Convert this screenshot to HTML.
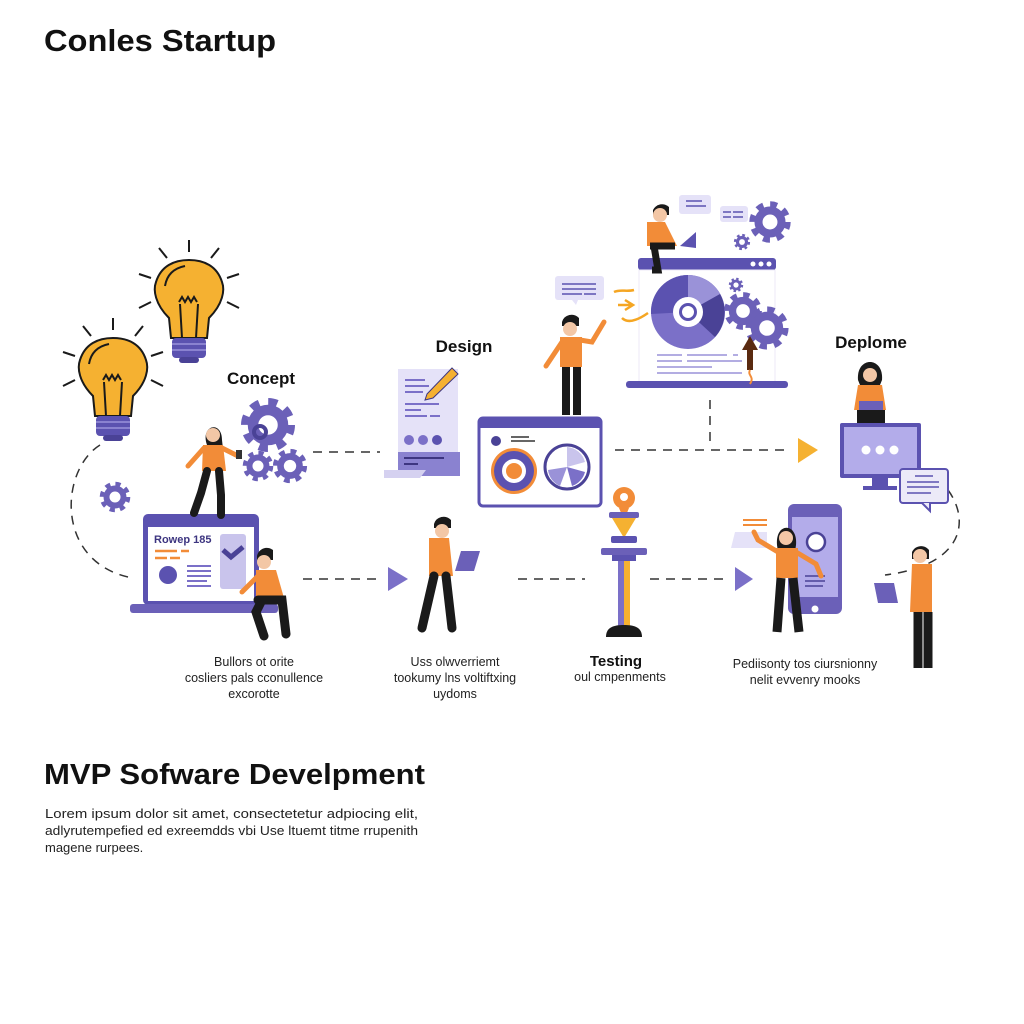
<!DOCTYPE html>
<html><head><meta charset="utf-8"><style>
html,body{margin:0;padding:0;background:#fff;}
svg{display:block;}
text{font-family:"Liberation Sans",sans-serif;}
</style></head><body>
<svg width="1024" height="1024" viewBox="0 0 1024 1024" xmlns="http://www.w3.org/2000/svg">
<defs>
<g id="gear"><circle r="14" fill="none" stroke="#6b60b8" stroke-width="8" stroke-dasharray="5.5 5.5"/><circle r="10" fill="none" stroke="#6b60b8" stroke-width="7"/></g>
<g id="bulb">
 <path d="M-20,22 C-34,8 -36,-6 -33,-14 C-28,-30 -15,-36 0,-36 C15,-36 28,-30 33,-14 C36,-6 34,8 20,22 L18,42 L-18,42 Z" fill="#f5b131" stroke="#1a1a1a" stroke-width="2"/>
 <path d="M-7,42 L-9,8 M7,42 L9,8 M-10,6 l3,-5 l3,5 l3,-5 l3,5 l3,-5 l3,5" stroke="#1a1a1a" stroke-width="2" fill="none"/>
 <path d="M-24,-10 C-22,-22 -14,-28 -4,-30" stroke="#1a1a1a" stroke-width="2" fill="none"/>
 <rect x="-17" y="42" width="34" height="20" rx="4" fill="#5b52b0"/>
 <path d="M-17,48 h34 M-17,54 h34" stroke="#8a82d0" stroke-width="2"/>
 <rect x="-10" y="61" width="20" height="6" rx="3" fill="#4a4296"/>
 <path d="M0,-44 v-12 M-22,-38 l-8,-10 M22,-38 l8,-10 M-38,-18 l-12,-4 M38,-18 l12,-4 M-38,6 l-12,6 M38,6 l12,6" stroke="#1a1a1a" stroke-width="2"/>
</g>
</defs>

<text x="44" y="51" font-size="31" font-weight="bold" fill="#111" textLength="232" lengthAdjust="spacingAndGlyphs">Conles Startup</text>

<use href="#bulb" x="189" y="296"/>
<use href="#bulb" x="113" y="374"/>

<g stroke="#333" stroke-width="1.5" stroke-dasharray="9 7" fill="none">
 <path d="M100,445 C60,470 55,560 128,577"/>
 <path d="M313,452 H380"/>
 <path d="M303,579 H380"/>
 <path d="M518,579 H585"/>
 <path d="M650,579 H728"/>
 <path d="M615,450 H790"/>
 <path d="M710,400 V445"/>
 <path d="M948,490 C970,520 965,565 885,575"/>
</g>
<path d="M388,567 L408,579 L388,591 Z" fill="#7b70c8"/>
<path d="M735,567 L753,579 L735,591 Z" fill="#7b70c8"/>
<path d="M798,438 L818,450 L798,463 Z" fill="#f5b131"/>

<text x="261" y="384" font-size="17" font-weight="bold" text-anchor="middle" fill="#111">Concept</text>
<use href="#gear" x="268" y="425" transform="translate(268 425) scale(1.5) translate(-268 -425)"/>
<use href="#gear" x="258" y="466" transform="translate(258 466) scale(0.85) translate(-258 -466)"/>
<use href="#gear" x="290" y="466" transform="translate(290 466) scale(0.95) translate(-290 -466)"/>
<use href="#gear" x="115" y="497" transform="translate(115 497) scale(0.85) translate(-115 -497)"/>
<circle cx="260" cy="432" r="6" fill="none" stroke="#4a4296" stroke-width="4"/>

<rect x="143" y="514" width="116" height="91" rx="5" fill="#5b52b0"/>
<rect x="148" y="527" width="106" height="74" fill="#fff"/>
<rect x="130" y="604" width="148" height="9" rx="3" fill="#6b60b8"/>
<text x="154" y="543" font-size="11" font-weight="bold" fill="#3d3580">Rowep 185</text>
<path d="M155,551 h22 M181,551 h8 M155,558 h12 M170,558 h10" stroke="#f28c38" stroke-width="2.5"/>
<circle cx="168" cy="575" r="9" fill="#5b52b0"/>
<path d="M187,566 h24 M187,571 h24 M187,576 h24 M187,581 h20 M187,586 h24" stroke="#7b70c8" stroke-width="2"/>
<rect x="220" y="534" width="26" height="55" rx="3" fill="#c9c4ec"/>
<path d="M223,550 l8,7 l12,-10" stroke="#4a4296" stroke-width="5" fill="none"/>

<path d="M207,445 C200,425 222,420 222,440 L224,458 L204,458 Z" fill="#1a1a1a"/>
<circle cx="213" cy="435" r="7" fill="#f3c7a6"/>
<path d="M203,445 h20 l3,26 h-24 Z" fill="#f28c38"/>
<path d="M204,448 l-16,18 M222,448 l16,8" stroke="#f28c38" stroke-width="5" stroke-linecap="round"/>
<rect x="236" y="450" width="6" height="9" fill="#333"/>
<path d="M207,471 l-6,22 l-7,20 M219,471 l2,24 l0,20" stroke="#1a1a1a" stroke-width="8" stroke-linecap="round"/>

<path d="M257,556 a10,10 0 0 1 16,-6 v10 h-16 Z" fill="#1a1a1a"/>
<circle cx="264" cy="562" r="7" fill="#f3c7a6"/>
<path d="M256,570 h20 l8,28 h-28 Z" fill="#f28c38"/>
<path d="M258,576 l-16,16" stroke="#f28c38" stroke-width="5" stroke-linecap="round"/>
<path d="M258,600 h24 l4,34 M262,600 l-6,12 l8,24" stroke="#1a1a1a" stroke-width="9" fill="none" stroke-linecap="round"/>

<text x="464" y="352" font-size="17" font-weight="bold" text-anchor="middle" fill="#111">Design</text>
<rect x="398" y="369" width="60" height="95" fill="#e5e2f8"/>
<path d="M405,380 h20 M405,386 h24 M405,392 h18 M405,404 h34 M405,410 h16 M405,416 h22 M430,416 h10" stroke="#7b70c8" stroke-width="2"/>
<circle cx="409" cy="440" r="5" fill="#7b70c8"/><circle cx="423" cy="440" r="5" fill="#7b70c8"/><circle cx="437" cy="440" r="5" fill="#5b52b0"/>
<rect x="398" y="452" width="62" height="24" fill="#8a82d0"/>
<path d="M404,458 h40 M404,464 h14" stroke="#3d3580" stroke-width="2"/>
<path d="M384,470 h42 l-6,8 h-36 Z" fill="#d5d1f0"/>
<path d="M427,394 L452,368 L458,374 L433,398 L425,400 Z" fill="#f5b131" stroke="#3d3580" stroke-width="1"/>

<rect x="479" y="418" width="122" height="88" rx="4" fill="#fff" stroke="#5b52b0" stroke-width="3"/>
<rect x="479" y="418" width="122" height="10" fill="#5b52b0"/>
<circle cx="496" cy="441" r="5" fill="#4a4296"/>
<path d="M511,437 h18 M511,441 h24" stroke="#333" stroke-width="1.5"/>
<circle cx="514" cy="471" r="23" fill="#f28c38"/>
<circle cx="514" cy="471" r="20" fill="#5b52b0"/>
<circle cx="514" cy="471" r="12" fill="#fff"/>
<circle cx="514" cy="471" r="8" fill="#f28c38"/>
<circle cx="567" cy="467" r="22" fill="#fff" stroke="#4a4296" stroke-width="3"/>
<path d="M567,467 L567,447 A20,20 0 0 1 585,462 Z" fill="#c9c4ec"/>
<path d="M567,467 L585,472 A20,20 0 0 1 572,486 Z" fill="#7b70c8"/>
<path d="M567,467 L560,486 A20,20 0 0 1 548,470 Z" fill="#9a92d8"/>

<path d="M562,322 a10,10 0 0 1 17,-4 v8 h-17 Z" fill="#1a1a1a"/>
<circle cx="570" cy="329" r="7" fill="#f3c7a6"/>
<path d="M560,337 h22 l0,30 h-22 Z" fill="#f28c38"/>
<path d="M562,342 l-16,24 M580,340 l12,2 l12,-20" stroke="#f28c38" stroke-width="5" stroke-linecap="round" fill="none"/>
<path d="M566,367 v48 M577,367 v48" stroke="#1a1a1a" stroke-width="8"/>
<rect x="555" y="276" width="49" height="24" rx="3" fill="#e5e2f8"/>
<path d="M562,284 h34 M562,289 h34 M562,294 h20 M584,294 h12" stroke="#5b52b0" stroke-width="1.5"/>
<path d="M572,300 l4,5 l2,-5" fill="#e5e2f8"/>

<rect x="638" y="258" width="138" height="12" rx="3" fill="#5b52b0"/>
<circle cx="753" cy="264" r="2.5" fill="#fff"/><circle cx="761" cy="264" r="2.5" fill="#fff"/><circle cx="769" cy="264" r="2.5" fill="#fff"/>
<rect x="639" y="270" width="136" height="112" fill="#fff" stroke="#eceaf7"/>
<rect x="626" y="381" width="162" height="7" rx="3" fill="#5b52b0"/>
<circle cx="688" cy="312" r="37" fill="#7b70c8"/>
<path d="M688,312 L688,275 A37,37 0 0 1 720,294 Z" fill="#9a92d8"/>
<path d="M688,312 L720,294 A37,37 0 0 1 715,337 Z" fill="#4a4296"/>
<path d="M688,312 L651,314 A37,37 0 0 1 688,275 Z" fill="#5b52b0"/>
<circle cx="688" cy="312" r="15" fill="#fff"/>
<circle cx="688" cy="312" r="9" fill="#5b52b0"/>
<circle cx="688" cy="312" r="6" fill="#fff"/>
<path d="M657,355 h25 M687,355 h40 M733,355 h5 M657,361 h25 M687,361 h55 M657,367 h55 M657,373 h85" stroke="#9a92d8" stroke-width="1.5"/>
<use href="#gear" x="743" y="311" transform="translate(743 311) scale(1.05) translate(-743 -311)"/>
<use href="#gear" x="767" y="328" transform="translate(767 328) scale(1.2) translate(-767 -328)"/>
<use href="#gear" x="736" y="285" transform="translate(736 285) scale(0.4) translate(-736 -285)"/>
<use href="#gear" x="770" y="222" transform="translate(770 222) scale(1.15) translate(-770 -222)"/>
<use href="#gear" x="742" y="242" transform="translate(742 242) scale(0.45) translate(-742 -242)"/>
<path d="M750,336 l-8,14 h5 v20 h6 v-20 h5 Z" fill="#5a2a10"/>
<path d="M750,370 c-3,6 5,6 0,14" stroke="#f28c38" stroke-width="2" fill="none"/>
<path d="M614,292 c6,-3 12,0 20,-2 M618,305 h14 M625,300 l8,5 l-8,5 M622,318 c6,6 16,2 26,-5" stroke="#f5a623" stroke-width="2.5" fill="none"/>
<rect x="679" y="195" width="32" height="19" rx="3" fill="#e5e2f8"/>
<path d="M686,201 h16 M686,206 h20" stroke="#5b52b0" stroke-width="1.5"/>
<rect x="720" y="206" width="28" height="16" rx="3" fill="#e5e2f8"/>
<path d="M723,212 h8 M733,212 h10 M723,217 h8 M733,217 h10" stroke="#5b52b0" stroke-width="1.5"/>
<path d="M653,210 a10,10 0 0 1 16,-3 v8 h-16 Z" fill="#1a1a1a"/>
<circle cx="660" cy="215" r="7" fill="#f3c7a6"/>
<path d="M647,222 h18 l12,24 h-30 Z" fill="#f28c38"/>
<path d="M680,246 l16,-14 v16 Z" fill="#5b52b0"/>
<path d="M650,246 h25 M654,246 l4,24 h-6" stroke="#1a1a1a" stroke-width="7" fill="none"/>

<text x="871" y="348" font-size="17" font-weight="bold" text-anchor="middle" fill="#111">Deplome</text>
<path d="M858,380 C856,356 884,356 882,380 L880,385 L860,385 Z" fill="#1a1a1a"/>
<circle cx="870" cy="375" r="7" fill="#f3c7a6"/>
<path d="M858,385 h24 l4,25 h-32 Z" fill="#f28c38"/>
<rect x="859" y="401" width="24" height="9" fill="#6b60b8"/>
<rect x="857" y="410" width="28" height="13" fill="#1a1a1a"/>
<rect x="840" y="423" width="81" height="55" rx="2" fill="#5b52b0"/>
<rect x="844" y="427" width="73" height="47" fill="#b3acea"/>
<circle cx="866" cy="450" r="4.5" fill="#fff"/><circle cx="880" cy="450" r="4.5" fill="#fff"/><circle cx="894" cy="450" r="4.5" fill="#fff"/>
<rect x="872" y="478" width="16" height="8" fill="#5b52b0"/>
<rect x="863" y="486" width="34" height="4" fill="#5b52b0"/>
<rect x="900" y="469" width="48" height="34" rx="3" fill="#eceaf8" stroke="#5b52b0" stroke-width="2"/>
<path d="M915,476 h18 M907,482 h32 M907,487 h32 M907,493 h24" stroke="#5b52b0" stroke-width="1.5"/>
<path d="M922,503 l8,8 v-8" fill="#eceaf8" stroke="#5b52b0" stroke-width="2"/>

<path d="M434,524 a10,10 0 0 1 17,-4 v8 h-17 Z" fill="#1a1a1a"/>
<circle cx="442" cy="531" r="7" fill="#f3c7a6"/>
<path d="M429,538 h20 l4,38 h-24 Z" fill="#f28c38"/>
<path d="M455,571 l6,-20 h19 l-6,20 Z" fill="#6b60b8"/>
<path d="M434,576 l-12,52 M446,576 l6,52" stroke="#1a1a1a" stroke-width="9" stroke-linecap="round"/>

<circle cx="624" cy="498" r="11" fill="#f28c38"/><circle cx="624" cy="497" r="4" fill="#fff"/>
<path d="M619,508 L624,520 L629,508 Z" fill="#f28c38"/>
<rect x="609" y="512" width="30" height="6" rx="2" fill="#6b60b8"/>
<path d="M612,518 h24 l-12,20 Z" fill="#f5b131"/>
<rect x="611" y="536" width="26" height="7" rx="2" fill="#5b52b0"/>
<rect x="601" y="548" width="46" height="7" rx="2" fill="#6b60b8"/>
<rect x="612" y="555" width="24" height="6" fill="#5b52b0"/>
<rect x="618" y="561" width="6" height="70" fill="#7b70c8"/>
<rect x="624" y="561" width="6" height="70" fill="#f5b131"/>
<path d="M606,637 c0,-10 8,-12 18,-12 c10,0 18,2 18,12 Z" fill="#1a1a1a"/>

<rect x="788" y="504" width="54" height="110" rx="6" fill="#6b60b8"/>
<rect x="792" y="517" width="46" height="80" fill="#b3acea"/>
<circle cx="815" cy="609" r="3.5" fill="#fff"/>
<circle cx="816" cy="542" r="9" fill="#fff" stroke="#4a4296" stroke-width="2.5"/>
<path d="M805,576 h20 M805,581 h20 M805,586 h18" stroke="#4a4296" stroke-width="1.5"/>
<path d="M735,532 h32 v16 h-36 Z" fill="#e5e2f8"/>
<path d="M743,520 h24 M743,525 h24" stroke="#f28c38" stroke-width="2"/>
<path d="M777,545 C775,522 798,522 796,545 L795,552 L778,552 Z" fill="#1a1a1a"/>
<circle cx="786" cy="538" r="7" fill="#f3c7a6"/>
<path d="M776,548 h22 l0,30 h-22 Z" fill="#f28c38"/>
<path d="M778,552 l-20,-12 l-4,-8 M796,552 l20,12 l5,12" stroke="#f28c38" stroke-width="5" stroke-linecap="round" fill="none"/>
<path d="M781,578 l-4,54 M793,578 l6,54" stroke="#1a1a1a" stroke-width="9"/>
<path d="M912,552 a10,10 0 0 1 17,-2 v9 h-17 Z" fill="#1a1a1a"/>
<circle cx="920" cy="556" r="7" fill="#f3c7a6"/>
<path d="M912,564 h20 v48 h-22 Z" fill="#f28c38"/>
<path d="M874,583 h20 l4,20 h-20 Z" fill="#6b60b8"/>
<path d="M918,612 v56 M928,612 v56" stroke="#1a1a1a" stroke-width="9"/>

<g font-size="12.5" fill="#222" text-anchor="middle">
 <text x="254" y="666">Bullors ot orite</text>
 <text x="254" y="682">cosliers pals cconullence</text>
 <text x="254" y="698">excorotte</text>
 <text x="455" y="666">Uss olwverriemt</text>
 <text x="455" y="682">tookumy lns voltiftxing</text>
 <text x="455" y="698">uydoms</text>
 <text x="620" y="681">oul cmpenments</text>
 <text x="805" y="668">Pediisonty tos ciursnionny</text>
 <text x="805" y="684">nelit evvenry mooks</text>
</g>
<text x="616" y="666" font-size="15" font-weight="bold" text-anchor="middle" fill="#111">Testing</text>

<text x="44" y="784" font-size="29" font-weight="bold" fill="#111" textLength="381" lengthAdjust="spacingAndGlyphs">MVP Sofware Develpment</text>
<g font-size="13" fill="#222">
 <text x="45" y="818" textLength="373" lengthAdjust="spacingAndGlyphs">Lorem ipsum dolor sit amet, consectetetur adpiocing elit,</text>
 <text x="45" y="835" textLength="373" lengthAdjust="spacingAndGlyphs">adlyrutempefied ed exreemdds vbi Use ltuemt titme rrupenith</text>
 <text x="45" y="852">magene rurpees.</text>
</g>
</svg>
</body></html>
